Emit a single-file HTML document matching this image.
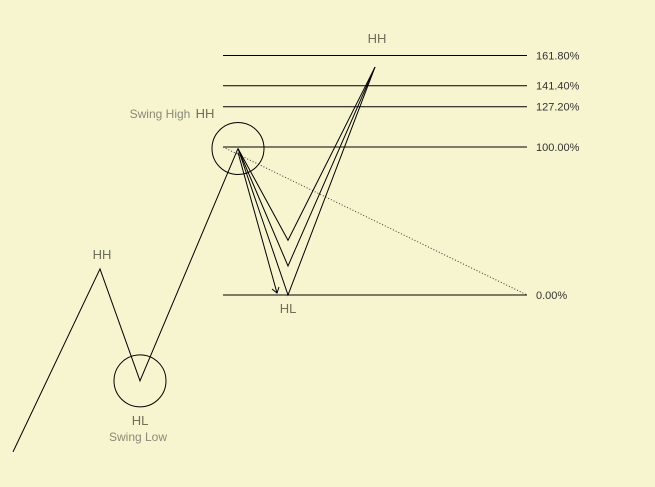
<!DOCTYPE html>
<html>
<head>
<meta charset="utf-8">
<style>
html,body{margin:0;padding:0;background:#f7f5cf;}
svg{display:block;}
text{font-family:"Liberation Sans","DejaVu Sans",sans-serif;}
</style>
</head>
<body>
<svg id="chart" width="655" height="487" viewBox="0 0 655 487">
<rect x="0" y="0" width="655" height="487" fill="#f7f5cf"/>
</svg>
<script>
const fibLevels = [161.8, 141.4, 127.2, 100, 0];
const fibLabels = ["161.80%", "141.40%", "127.20%", "100.00%", "0.00%"];
const mainX = [13, 100, 140, 238];
const mainP = [-106, 17.6, -58, 99];
const retraceLows = [37, 19.6, 0];
const lowX = 288;
const peakX = 375;
const peakP = 154;

const svg = document.getElementById('chart');
const NS = 'http://www.w3.org/2000/svg';
function yScale(p){ return 295 - p * 1.48; }
function mk(tag, attrs){ const e = document.createElementNS(NS, tag); for (const k in attrs) e.setAttribute(k, attrs[k]); svg.appendChild(e); return e; }

fibLevels.forEach((lv, i) => {
  const y = yScale(lv);
  const l = mk('line', {x1:223, x2:527, y1:y, y2:y, stroke:'#000', 'stroke-width':1});
  
  
  const t = mk('text', {x:536, y:y+4, 'font-size':11, fill:'#333'});
  t.textContent = fibLabels[i];
  
  
});

// dotted retracement line
const d = mk('line', {x1:223, y1:yScale(100), x2:527, y2:yScale(0), stroke:'#333', 'stroke-width':1, 'stroke-dasharray':'1,2'});



// main zigzag
const pts = mainX.map((x, i) => x + ',' + yScale(mainP[i])).join(' ');
const mp = mk('polyline', {points:pts, fill:'none', stroke:'#000', 'stroke-width':1});



const topX = mainX[3], topY = yScale(mainP[3]);
retraceLows.forEach(lp => {
  const p = mk('polyline', {points: topX+','+topY+' '+lowX+','+yScale(lp)+' '+peakX+','+yScale(peakP), fill:'none', stroke:'#000', 'stroke-width':1});
  
  
});

// arrow
const ax2 = 277, ay2 = 293;
const a = mk('line', {x1:topX, y1:topY+4, x2:ax2, y2:ay2, stroke:'#000', 'stroke-width':1});


const ah = mk('polyline', {points:(ax2-5)+','+(ay2-4)+' '+ax2+','+ay2+' '+(ax2+2)+','+(ay2-6), fill:'none', stroke:'#000', 'stroke-width':1});



// circles
const c1 = mk('circle', {cx:topX, cy:topY, r:26, fill:'none', stroke:'#000', 'stroke-width':1});


const c2 = mk('circle', {cx:mainX[2], cy:yScale(mainP[2]), r:26, fill:'none', stroke:'#000', 'stroke-width':1});



function label(txt, x, y, size, name, fill){
  const t = mk('text', {x:x, y:y, 'font-size':size, fill:fill||'#6e6e5a', 'text-anchor':'middle', 'font-weight':'normal'});
  t.textContent = txt;
  
  
}
label('HH', 377, 43, 13, 'top-hh-label');
label('Swing High', 160, 118, 12, 'swing-high-label', '#8a8a78');
label('HH', 205, 118, 13, 'swing-high-hh-label');
label('HH', 102, 259, 13, 'first-hh-label');
label('HL', 140, 425, 13, 'first-hl-label');
label('Swing Low', 138, 441, 12, 'swing-low-label', '#8a8a78');
label('HL', 288, 313, 13, 'second-hl-label');
</script>
</body>
</html>
